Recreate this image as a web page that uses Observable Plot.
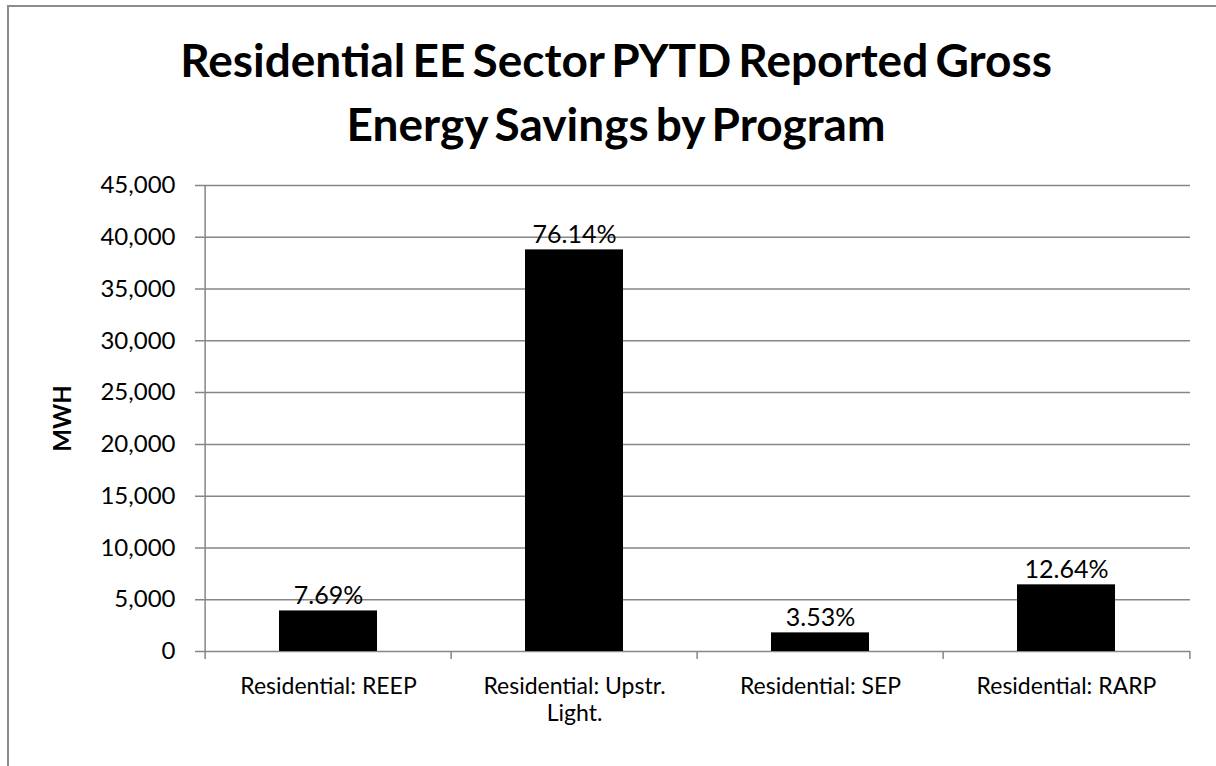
<!DOCTYPE html>
<html><head><meta charset="utf-8">
<script src="https://cdn.jsdelivr.net/npm/d3@7"></script>
<script src="https://cdn.jsdelivr.net/npm/@observablehq/plot@0.6"></script>
<style>
body{margin:0;background:#fff;}
#wrap{position:relative;width:1216px;height:766px;overflow:hidden;font-family:Lato,sans-serif;background:#fff}
#frame{position:absolute;left:7px;top:5px;width:1400px;height:900px;border:2px solid #8c8c8c;box-sizing:border-box;z-index:5;pointer-events:none}
#title{position:absolute;left:8px;top:28px;width:1216px;text-align:center;font-weight:bold;font-size:46px;line-height:64px;color:#000;word-spacing:-4px}
#chart{position:absolute;left:0;top:160px}
</style></head><body>
<div id="wrap"><div id="frame"></div><div id="title">Residential EE Sector PYTD Reported Gross<br>Energy Savings by Program</div><div id="chart"></div></div>
<script>
const categories = ["Residential: REEP", "Residential: Upstr. Light.", "Residential: SEP", "Residential: RARP"];
const tickLabels = ["Residential: REEP", "Residential: Upstr.\nLight.", "Residential: SEP", "Residential: RARP"];
const values = [3917, 38783, 1798, 6438];
const shares = ["7.69%", "76.14%", "3.53%", "12.64%"];
const yTicks = [0, 5000, 10000, 15000, 20000, 25000, 30000, 35000, 40000, 45000];
const yLabel = "MWH";

const W = 1216, H = 591, mL = 203, mR = 26, mT = 25, mB = 100;
const bw = (W - mL - mR) / categories.length;
const data = categories.map((c, i) => ({c, v: values[i], s: shares[i]}));
const grey = "#868686";

const plot = Plot.plot({
  width: W, height: H, marginLeft: mL, marginRight: mR, marginTop: mT, marginBottom: mB,
  style: {fontFamily: "Lato, sans-serif", background: "transparent", color: "#000"},
  x: {domain: categories, padding: 0, label: null},
  y: {domain: [0, 45000], label: null},
  marks: [
    Plot.ruleY(yTicks, {y: d => d, stroke: grey, strokeWidth: 1.5, insetLeft: -8}),
    Plot.ruleX([categories[0]], {x: d => d, dx: -bw / 2, y1: 45000, y2: 0, insetBottom: -8, stroke: grey, strokeWidth: 1.5}),
    Plot.ruleX(categories.slice(1), {x: d => d, dx: -bw / 2, y1: 0, y2: 0, insetBottom: -8, stroke: grey, strokeWidth: 1.5}),
    Plot.ruleX([categories[categories.length - 1]], {x: d => d, dx: bw / 2, y1: 0, y2: 0, insetBottom: -8, stroke: grey, strokeWidth: 1.5}),
    Plot.barY(data, {x: "c", y: "v", fill: "#000", insetLeft: 74, insetRight: 74}),
    Plot.text(data, {x: "c", y: "v", text: "s", dy: -7, lineAnchor: "bottom", fontSize: 25, fill: "#000"}),
    Plot.axisY({ticks: yTicks, tickSize: 0, tickPadding: 28, tickFormat: d3.format(","), fontSize: 24, label: null}),
    Plot.axisX({tickSize: 0, tickPadding: 24, fontSize: 23, lineHeight: 1.15, label: null, tickFormat: d => tickLabels[categories.indexOf(d)]}),
    Plot.text([yLabel], {frameAnchor: "left", textAnchor: "middle", dx: -140, rotate: -90, fontWeight: "bold", fontSize: 24, fill: "#000", text: d => d})
  ]
});
document.getElementById("chart").appendChild(plot);
</script>
</body></html>
